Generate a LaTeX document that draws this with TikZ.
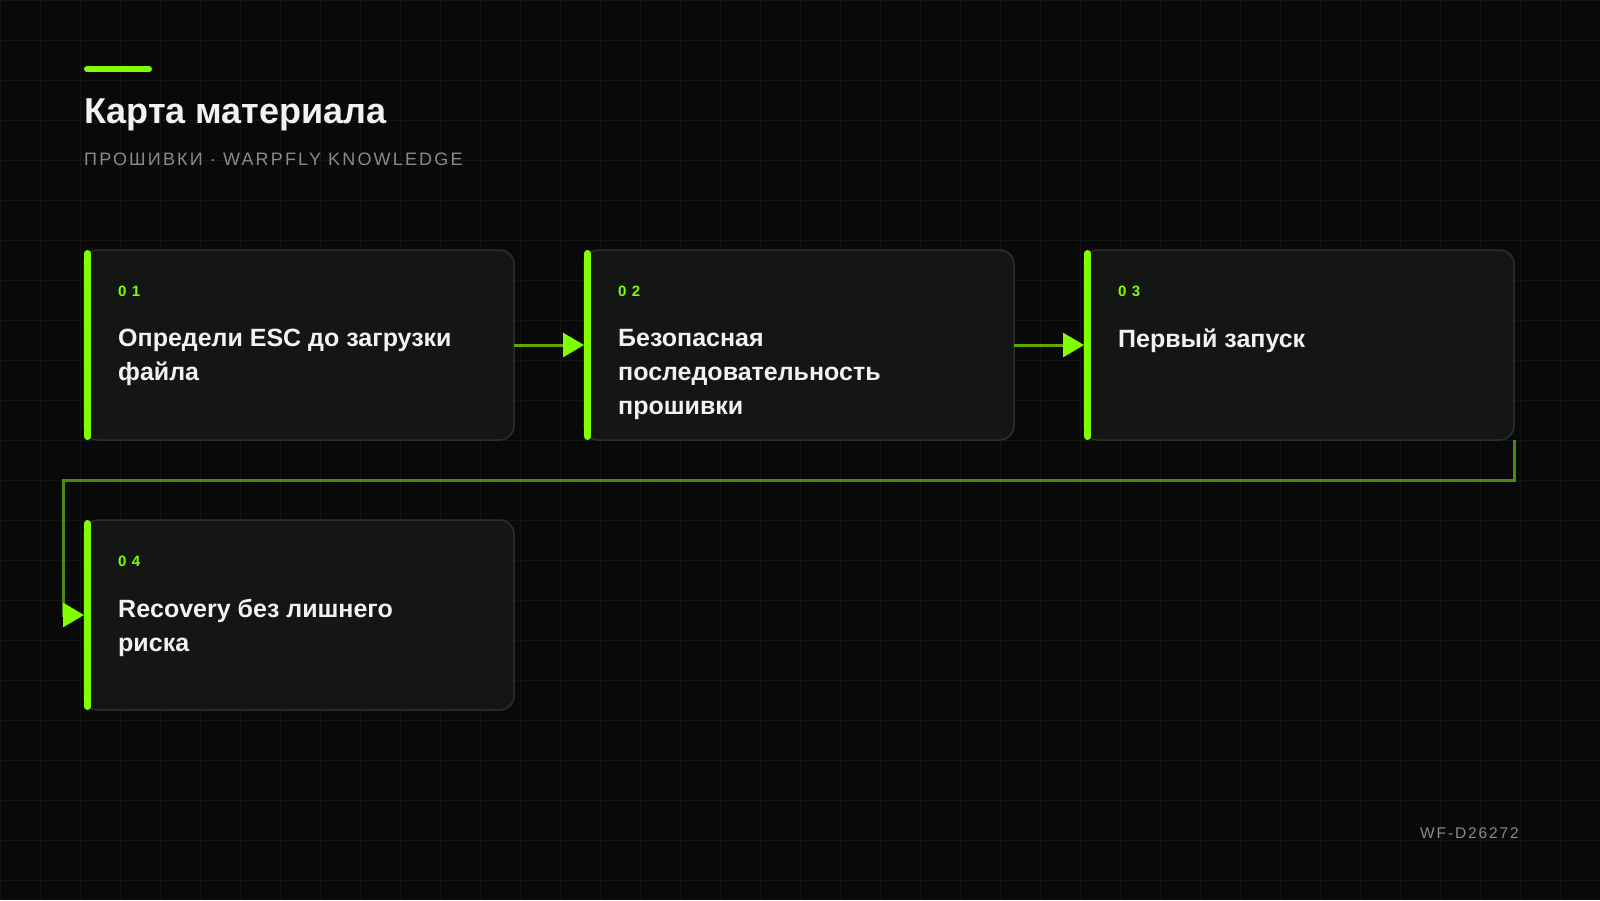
\documentclass[tikz,border=0pt]{standalone}
\usepackage{fontspec}
\setmainfont{Liberation Sans}
\newfontfamily\spacedfont[LetterSpace=12]{Liberation Sans}
\newfontfamily\numfont[LetterSpace=35]{Liberation Sans}
\newfontfamily\codefont[LetterSpace=12]{Liberation Sans}
\usetikzlibrary{arrows.meta,positioning}
\definecolor{bgdark}{HTML}{080908}
\definecolor{gridcol}{HTML}{121512}
\definecolor{cardfill}{HTML}{141614}
\definecolor{cardline}{HTML}{2C2F2C}
\definecolor{accent}{HTML}{7FFF00}
\definecolor{flowgreen}{HTML}{5EA800}
\definecolor{loopgreen}{HTML}{4A8A0C}
\definecolor{softwhite}{HTML}{F2F2F2}
\definecolor{mutedgray}{HTML}{8A8A8A}
\tikzset{
	card/.style={draw=cardline,line width=1.5pt,fill=cardfill,rounded corners=14pt,
		minimum width=430pt,minimum height=190pt,inner sep=0pt,outer sep=0pt},
	accentbar/.style={draw=accent,line width=7pt,line cap=round},
	cardnum/.style={anchor=base west,inner sep=0pt,text=accent,font=\numfont\bfseries\fontsize{15}{18}\selectfont},
	cardtitle/.style={anchor=north west,inner sep=0pt,text=softwhite,align=left,
		font=\bfseries\fontsize{25}{34}\selectfont,execute at begin node={\rule{0pt}{18pt}}},
	flow/.style={draw=flowgreen,line width=3pt,-{Triangle[length=21pt,width=24pt,color=accent]}},
	loopback/.style={draw=loopgreen,line width=3pt,-{Triangle[length=21pt,width=24pt,color=accent]}},
}
\begin{document}
\begin{tikzpicture}[x=1pt,y=-1pt,node distance=70pt]
	\fill[bgdark] (0,0) rectangle (1600,900);
	\useasboundingbox (0,0) rectangle (1600,900);
	\foreach \i in {0,40,...,1600}{
		\draw[gridcol,line width=0.8pt] (\i,0)--(\i,900);
	}
	\foreach \i in {0,40,...,880}{
		\draw[gridcol,line width=0.8pt] (0,\i)--(1600,\i);
	}
	\draw[accent,line width=6pt,line cap=round] (87,69)--(149,69);
	\node[anchor=base west,inner sep=0pt,text=softwhite,font=\bfseries\fontsize{36}{40}\selectfont] (title) at (84,123) {Карта материала};
	\node[anchor=base west,inner sep=0pt,text=mutedgray,font=\spacedfont\fontsize{18}{20}\selectfont] (subtitle) at (84,165) {ПРОШИВКИ · WARPFLY KNOWLEDGE};
	\node[anchor=base west,inner sep=0pt,text=mutedgray,font=\codefont\fontsize{15.5}{18}\selectfont] (code) at (1420,838) {WF-D26272};

	\node[card,anchor=north west] (b1) at (84,250) {};
	\node[card,right=of b1] (b2) {};
	\node[card,right=of b2] (b3) {};
	\node[card,below=80pt of b1] (b4) {};
	\foreach \b/\n in {b1/01,b2/02,b3/03,b4/04}{
		\draw[accentbar] ([shift={(3.5,3.5)}]\b.north west)--([shift={(3.5,-3.5)}]\b.south west);
		\node[cardnum] (\b num) at ([shift={(34,46)}]\b.north west) {\n};
	}
	\node[cardtitle] (b1 text) at ([shift={(34,79)}]b1.north west) {Определи ESC до загрузки\\файла};
	\node[cardtitle] (b2 text) at ([shift={(34,79)}]b2.north west) {Безопасная\\последовательность\\прошивки};
	\node[cardtitle] (b3 text) at ([shift={(34,79)}]b3.north west) {Первый запуск};
	\node[cardtitle] (b4 text) at ([shift={(34,79)}]b4.north west) {Recovery без лишнего\\риска};

	\coordinate (turn) at (63,480);
	\draw[flow] (b1.east)--(b2.west);
	\draw[flow] (b2.east)--(b3.west);
	\draw[loopback] (b3.south east) |- (turn) |- (b4.west);
\end{tikzpicture}
\end{document}
